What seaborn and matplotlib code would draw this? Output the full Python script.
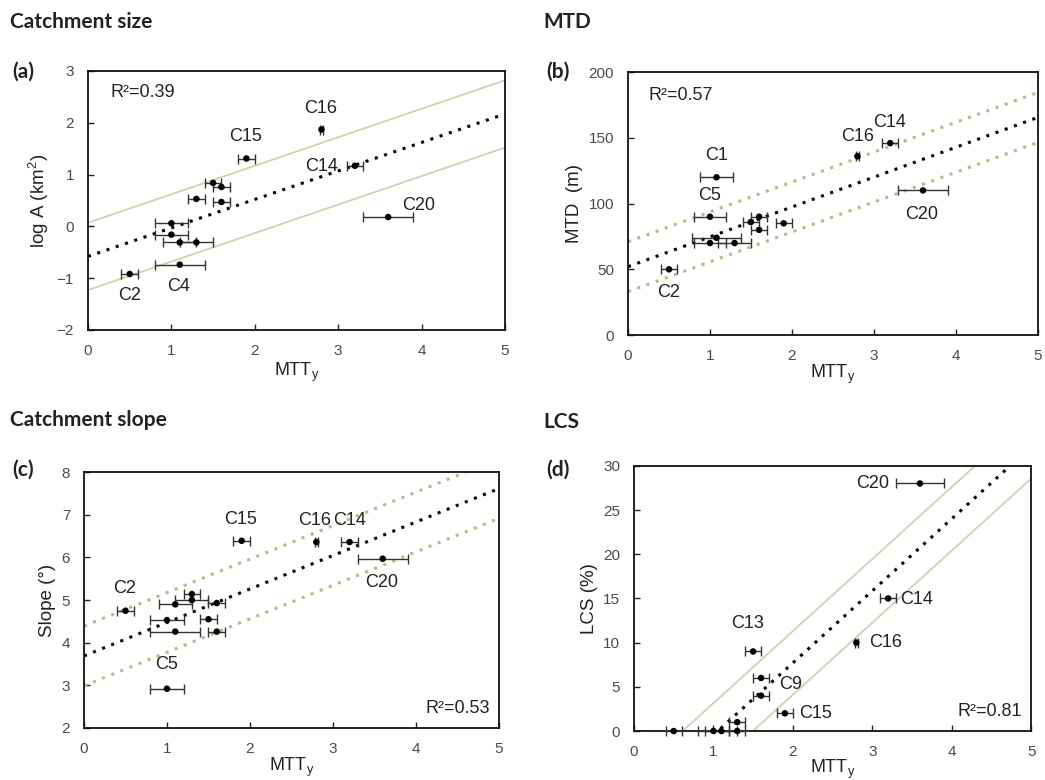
"""Mean transit time vs catchment descriptors, four panels."""
import matplotlib
matplotlib.use("Agg")
import matplotlib.pyplot as plt
import numpy as np
import pandas as pd
import seaborn as sns

# ---- data ----
# (a) catchment size
a_mtt = [0.5, 1.1, 1.0, 1.0, 1.1, 1.3, 1.3, 1.5, 1.6, 1.6, 1.9, 2.8, 3.2, 3.6]
a_err = [0.1, 0.3, 0.2, 0.2, 0.2, 0.2, 0.1, 0.1, 0.1, 0.1, 0.1, 0.02, 0.1, 0.3]
a_val = [-0.92, -0.74, 0.06, -0.16, -0.31, -0.31, 0.53, 0.84, 0.76, 0.47, 1.31, 1.87, 1.17, 0.18]
a_lab = ["C2", "C4", "", "", "", "", "", "", "", "", "C15", "C16", "C14", "C20"]
a_fit = [0.55, -0.58, 0.65]  # slope, intercept, band half-width

# (b) MTD
b_mtt = [0.5, 1.08, 1.0, 1.08, 1.0, 1.3, 1.5, 1.6, 1.6, 1.9, 2.8, 3.2, 3.6]
b_err = [0.1, 0.2, 0.2, 0.3, 0.2, 0.2, 0.1, 0.1, 0.1, 0.1, 0.02, 0.1, 0.3]
b_val = [50, 120, 90, 74, 70, 70, 86, 90, 80, 85, 136, 146, 110]
b_lab = ["C2", "C1", "C5", "", "", "", "", "", "", "", "C16", "C14", "C20"]
b_fit = [22.7, 52.0, 19.0]

# (c) catchment slope
c_mtt = [0.5, 1.0, 1.3, 1.3, 1.1, 1.6, 1.0, 1.5, 1.1, 1.6, 1.9, 2.8, 3.2, 3.6]
c_err = [0.1, 0.2, 0.1, 0.2, 0.2, 0.1, 0.2, 0.1, 0.3, 0.1, 0.1, 0.02, 0.1, 0.3]
c_val = [4.75, 2.92, 5.14, 5.0, 4.9, 4.93, 4.53, 4.55, 4.26, 4.26, 6.39, 6.36, 6.36, 5.97]
c_lab = ["C2", "C5", "", "", "", "", "", "", "", "", "C15", "C16", "C14", "C20"]
c_fit = [0.785, 3.69, 0.7]

# (d) LCS
d_mtt = [0.5, 1.0, 1.1, 1.3, 1.3, 1.5, 1.6, 1.6, 1.9, 2.8, 3.2, 3.6]
d_err = [0.1, 0.2, 0.2, 0.1, 0.1, 0.1, 0.1, 0.1, 0.1, 0.02, 0.1, 0.3]
d_val = [0, 0, 0, 0, 1, 9, 6, 4, 2, 10, 15, 28]
d_lab = ["", "", "", "", "", "C13", "", "C9", "C15", "C16", "C14", "C20"]
d_fit = [8.15, -8.6, 3.6]

r2 = ["0.39", "0.57", "0.53", "0.81"]

# label text positions (data coords)
a_pos = {"C2": (0.5, -1.33), "C4": (1.09, -1.17), "C15": (1.89, 1.73),
         "C16": (2.79, 2.27), "C14": (2.8, 1.15), "C20": (3.96, 0.4)}
b_pos = {"C2": (0.49, 32), "C1": (1.08, 136.5), "C5": (1.0, 106),
         "C16": (2.8, 151), "C14": (3.19, 161.5), "C20": (3.58, 92)}
c_pos = {"C2": (0.49, 5.26), "C5": (1.0, 3.48), "C15": (1.89, 6.89),
         "C16": (2.78, 6.87), "C14": (3.2, 6.87), "C20": (3.59, 5.41)}
d_pos = {"C20": (3.01, 28), "C14": (3.56, 14.9), "C16": (3.17, 10),
         "C13": (1.43, 12.2), "C9": (1.97, 5.3), "C15": (2.28, 2.0)}

sns.set_theme(style="ticks")
plt.rcParams["font.family"] = ["Liberation Sans", "DejaVu Sans"]
plt.rcParams["mathtext.default"] = "regular"

GREEN_SOLID = "#c6d6b2"
GREEN_DOT = "#a3c487"
TICK_COL = "#4a4a4a"

fig = plt.figure(figsize=(10.45, 7.8), dpi=100)

panels = [
    dict(rect=[0.0842, 0.577, 0.399, 0.332], x=a_mtt, e=a_err, y=a_val, lab=a_lab,
         pos=a_pos, fit=a_fit, band_style="solid", ylim=(-2, 3), yticks=[-2, -1, 0, 1, 2, 3],
         ylabel="log A (km$^2$)", r2=r2[0], r2_at=(0.053, 0.915, "left"), xpad=2),
    dict(rect=[0.601, 0.5705, 0.392, 0.337], x=b_mtt, e=b_err, y=b_val, lab=b_lab,
         pos=b_pos, fit=b_fit, band_style="dotted", ylim=(0, 200), yticks=[0, 50, 100, 150, 200],
         ylabel="MTD  (m)", r2=r2[1], r2_at=(0.049, 0.913, "left"), xpad=0),
    dict(rect=[0.0804, 0.0667, 0.397, 0.328], x=c_mtt, e=c_err, y=c_val, lab=c_lab,
         pos=c_pos, fit=c_fit, band_style="dotted", ylim=(2, 8), yticks=[2, 3, 4, 5, 6, 7, 8],
         ylabel="Slope (°)", r2=r2[2], r2_at=(0.978, 0.078, "right"), xpad=0),
    dict(rect=[0.6067, 0.0628, 0.380, 0.340], x=d_mtt, e=d_err, y=d_val, lab=d_lab,
         pos=d_pos, fit=d_fit, band_style="solid", ylim=(0, 30), yticks=[0, 5, 10, 15, 20, 25, 30],
         ylabel="LCS (%)", r2=r2[3], r2_at=(0.977, 0.072, "right"), xpad=-1),
]

xs = np.array([0.0, 5.0])
for p in panels:
    ax = fig.add_axes(p["rect"])
    df = pd.DataFrame({"mtt": p["x"], "val": p["y"], "err": p["e"], "lab": p["lab"]})

    slope, icpt, band = p["fit"]
    fit_df = pd.DataFrame({"mtt": xs, "fit": icpt + slope * xs})
    if p["band_style"] == "solid":
        bkw = dict(color=GREEN_SOLID, lw=1.3, linestyle="-")
    else:
        bkw = dict(color=GREEN_DOT, lw=2.2, linestyle=(0, (1, 2.2)))
    for off in (band, -band):
        sns.lineplot(x=fit_df["mtt"], y=fit_df["fit"] + off, ax=ax, **bkw)
    sns.lineplot(data=fit_df, x="mtt", y="fit", ax=ax, color="black", lw=2.2,
                 linestyle=(0, (1, 2.2)))

    ax.errorbar(df["mtt"], df["val"], xerr=df["err"], fmt="none", ecolor="#333333",
                elinewidth=1.0, capsize=3.5, capthick=1.0, clip_on=False, zorder=3)
    sns.scatterplot(data=df, x="mtt", y="val", ax=ax, color="black", s=22,
                    edgecolor="none", zorder=4, clip_on=False)

    for name, (tx, ty) in p["pos"].items():
        ax.text(tx, ty, name, ha="center", va="center", fontsize=13, color="#222222")

    rx, ry, ha = p["r2_at"]
    ax.text(rx, ry, f"R²={p['r2']}", transform=ax.transAxes, ha=ha, va="center",
            fontsize=13, color="#222222")

    ax.set_xlim(0, 5)
    ax.set_ylim(*p["ylim"])
    ax.set_xticks([0, 1, 2, 3, 4, 5])
    ax.set_yticks(p["yticks"])
    ax.tick_params(direction="in", length=4, width=1, pad=10, labelsize=11,
                   labelcolor=TICK_COL, color="#222222")
    for s in ax.spines.values():
        s.set_color("#111111")
        s.set_linewidth(1.3)
    ax.set_xlabel("MTT$_\\mathregular{y}$", fontsize=13, color="#222222", labelpad=p["xpad"])
    ax.set_ylabel(p["ylabel"], fontsize=13.5, color="#222222", labelpad=4)

# panel titles and letters
title_kw = dict(fontsize=15, fontweight="bold", color="#222222",
                family=["Lato", "DejaVu Sans"], va="center", ha="left")
fig.text(10 / 1045, 1 - 22 / 780, "Catchment size", **title_kw)
fig.text(543 / 1045, 1 - 22 / 780, "MTD", **title_kw)
fig.text(10 / 1045, 1 - 420 / 780, "Catchment slope", **title_kw)
fig.text(543 / 1045, 1 - 422 / 780, "LCS", **title_kw)
fig.text(12 / 1045, 1 - 72 / 780, "(a)", **title_kw)
fig.text(546 / 1045, 1 - 72 / 780, "(b)", **title_kw)
fig.text(12 / 1045, 1 - 470 / 780, "(c)", **title_kw)
fig.text(546 / 1045, 1 - 470 / 780, "(d)", **title_kw)

fig.savefig("out.png", dpi=100)
